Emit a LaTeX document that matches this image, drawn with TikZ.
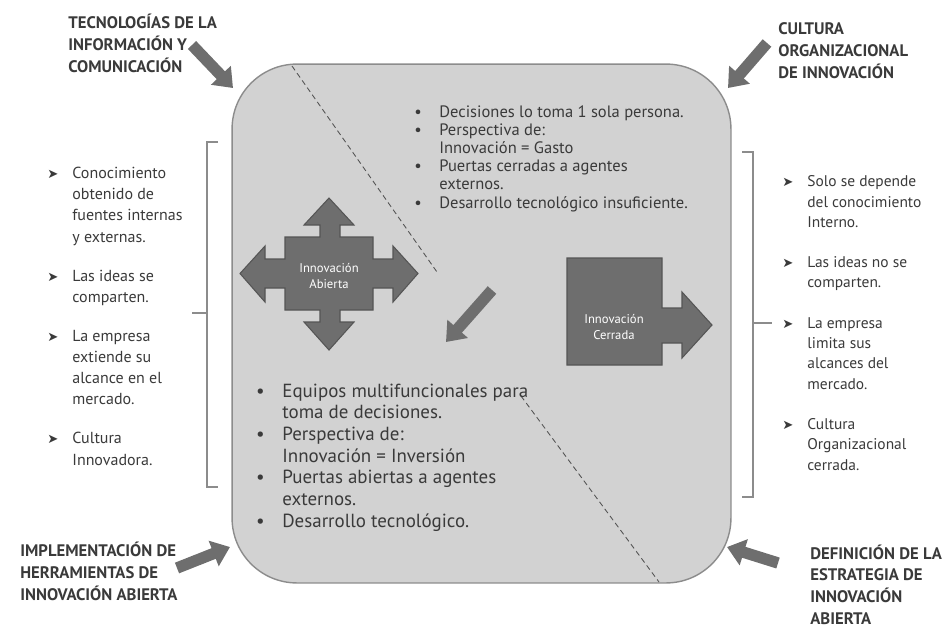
\documentclass[tikz,border=0pt]{standalone}
\usepackage{fontspec}
\setmainfont{PT Sans}
\newfontfamily\headfont{PT Sans}
\newfontfamily\symfont{DejaVu Sans}
\usetikzlibrary{arrows.meta}
\definecolor{cajagris}{HTML}{D2D2D2}
\definecolor{bordegris}{HTML}{8C8C8C}
\definecolor{flechagris}{HTML}{6E6E6E}
\definecolor{flechaborde}{HTML}{555555}
\definecolor{textogris}{HTML}{3A3A3A}
\newcommand{\flecha}{\llap{{\symfont\fontsize{7.5}{7.5}\selectfont ➤}\hspace{8pt}}}
\newcommand{\punto}{\llap{\textbullet\hspace{10pt}}}
\tikzset{every node/.style={inner sep=0pt,text=textogris}}
\tikzset{titulo/.style={anchor=base west,align=left,font=\headfont\bfseries\fontsize{9.5}{12.3}\selectfont}}
\tikzset{lista/.style={anchor=base west,align=left}}
\tikzset{blanco/.style={align=center,text=white,font=\fontsize{7.2}{9}\selectfont}}
\tikzset{flechota/.style={line width=6.5pt,draw=flechagris,-{Triangle[width=15pt,length=10pt]}}}
\tikzset{forma/.style={fill=flechagris,draw=flechaborde,line width=0.6pt,line join=miter}}

\begin{document}
\begin{tikzpicture}[x=0.02cm,y=-0.02cm]
      \useasboundingbox (0,0) rectangle (942,627);
      \node[rectangle,draw=bordegris,fill=cajagris,line width=0.8pt,rounded corners=1.3cm,
        minimum width=9.98cm,minimum height=10.38cm] (caja) at (481.5,323.5) {};

      % divisiones
      \draw[bordegris!60!black,densely dashed,line width=0.5pt] (292,66) -- (437,272);
      \draw[bordegris!60!black,densely dashed,line width=0.5pt] (521,396) -- (659,582);

      % factores
      \node[titulo] (tic) at (68,72) {TECNOLOGÍAS DE LA\\INFORMACIÓN Y\\COMUNICACIÓN};
      \node[titulo] (cultura) at (778,78) {CULTURA\\ORGANIZACIONAL\\DE INNOVACIÓN};
      \node[titulo] (herramientas) at (20,600) {IMPLEMENTACIÓN DE\\HERRAMIENTAS DE\\INNOVACIÓN ABIERTA};
      \node[titulo] (estrategia) at (810,624) {DEFINICIÓN DE LA\\ESTRATEGIA DE\\INNOVACIÓN\\ABIERTA};
      \coordinate (t1) at (192,45);  \coordinate (t2) at (233,88);
      \coordinate (c1) at (767,43);  \coordinate (c2) at (728,88);
      \coordinate (h1) at (177,568); \coordinate (h2) at (230,547);
      \coordinate (e1) at (778,563); \coordinate (e2) at (727,547);
      \coordinate (m1) at (492,290); \coordinate (m2) at (446,342);
      \foreach \a/\b in {t1/t2,c1/c2,h1/h2,e1/e2,m1/m2}
        \draw[flechota] (\a) -- (\b);

      % innovacion abierta
      \draw[forma] (285,237) -- (320,237) -- (320,225) -- (304,225) -- (329,198) -- (354,225)
        -- (340,225) -- (340,237) -- (373,237) -- (373,259) -- (393,259) -- (393,246) -- (418,273.5)
        -- (393,302) -- (393,288) -- (373,288) -- (373,310) -- (340,310) -- (340,322) -- (354,322)
        -- (329,350) -- (304,322) -- (320,322) -- (320,310) -- (285,310) -- (285,288) -- (265,288)
        -- (265,302) -- (240,273.5) -- (265,246) -- (265,259) -- (285,259) -- cycle;
      \node[blanco] (abierta) at (329,276) {Innovación\\Abierta};

      % innovacion cerrada
      \draw[forma] (567,258) -- (662,258) -- (662,308) -- (682,308) -- (682,292) -- (712,325)
        -- (682,358) -- (682,343) -- (662,343) -- (662,365) -- (567,365) -- cycle;
      \node[blanco] (cerrada) at (614,327) {Innovación\\Cerrada};

      % textos de la caja
      \node[lista,font=\fontsize{9.4}{10.3}\selectfont] (cerradaTxt) at (439,208)
        {\punto Decisiones lo toma 1 sola persona.\\\punto Perspectiva de:\\Innovación = Gasto\\
         \punto Puertas cerradas a agentes\\externos.\\\punto Desarrollo tecnológico insuficiente.};
      \node[lista,font=\fontsize{10.8}{12.3}\selectfont] (abiertaTxt) at (282,527)
        {\punto Equipos multifuncionales para\\toma de decisiones.\\\punto Perspectiva de:\\
         Innovación = Inversión\\\punto Puertas abiertas a agentes\\externos.\\\punto Desarrollo tecnológico.};

      % caracteristicas
      \node[lista,font=\fontsize{9.1}{12}\selectfont] (abiertaLista) at (72,465)
        {\flecha Conocimiento\\obtenido de\\fuentes internas\\y externas.\\[10.3pt]
         \flecha Las ideas se\\comparten.\\[10.3pt]
         \flecha La empresa\\extiende su\\alcance en el\\mercado.\\[10.3pt]
         \flecha Cultura\\Innovadora.};
      \node[lista,font=\fontsize{8.8}{11.6}\selectfont] (cerradaLista) at (807,470)
        {\flecha Solo se depende\\del conocimiento\\Interno.\\[11.2pt]
         \flecha Las ideas no se\\comparten.\\[11.2pt]
         \flecha La empresa\\limita sus\\alcances del\\mercado.\\[11.2pt]
         \flecha Cultura\\Organizacional\\cerrada.};

      % llaves
      \draw[bordegris,line width=0.8pt] (218,142) -- (207,142) -- (207,487) -- (218,487);
      \draw[bordegris,line width=0.8pt] (207,313) -- (192,313);
      \draw[bordegris,line width=0.8pt] (742,152) -- (753,152) -- (753,497) -- (742,497);
      \draw[bordegris,line width=0.8pt] (753,323) -- (772,323);
    \end{tikzpicture}
\end{document}
